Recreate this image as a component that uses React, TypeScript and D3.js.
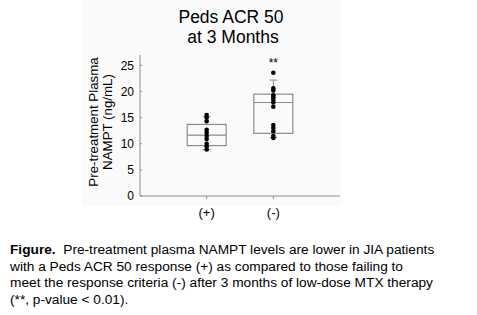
import React from "react";
import * as d3 from "d3";

const categories = ["(+)", "(-)"];
const pointsPos = [15.5, 15.0, 14.3, 12.7, 12.1, 11.5, 10.9, 10.0, 9.5, 8.9];
const pointsNeg = [23.6, 20.6, 20.2, 19.3, 18.9, 18.4, 17.9, 17.1, 13.6, 13.0, 12.4, 11.5, 11.1];
const whiskerLow = [8.9, 11.2];
const q1 = [9.65, 12.0];
const median = [11.65, 17.9];
const q3 = [13.7, 19.5];
const whiskerHigh = [15.2, 22.2];
const yTicks = [0, 5, 10, 15, 20, 25];
const captionLines = [
  "Pre-treatment plasma NAMPT levels are lower in JIA patients",
  "with a Peds ACR 50 response (+) as compared to those failing to",
  "meet the response criteria (-) after 3 months of low-dose MTX therapy",
  "(**, p-value < 0.01).",
];

export default function App() {
  const font = "Liberation Sans, Arial, sans-serif";
  const y = d3.scaleLinear().domain([0, 27]).range([196, 55]);
  const x = d3.scalePoint().domain(categories).range([140, 340]).padding(1);
  const series = [pointsPos, pointsNeg];
  const boxW = 39;
  const capW = 8;
  const gray = "#8c8c8c";
  return (
    <svg
      width={477}
      height={315}
      style={{ position: "absolute", left: 0, top: 0, background: "#fff" }}
      fontFamily={font}
    >
      <rect x={82} y={0} width={259} height={206} fill="#fafafa" />
      <text x={231} y={22.7} fontSize={17.5} textAnchor="middle" fill="#000">Peds ACR 50</text>
      <text x={233} y={42.7} fontSize={17.5} textAnchor="middle" fill="#000">at 3 Months</text>
      <g transform="translate(97.5,122) rotate(-90)">
        <text fontSize={13.3} textAnchor="middle" fill="#000">Pre-treatment Plasma</text>
      </g>
      <g transform="translate(111.5,122) rotate(-90)">
        <text fontSize={13.3} textAnchor="middle" fill="#000">NAMPT (ng/mL)</text>
      </g>
      <line x1={140} x2={140} y1={y(27)} y2={y(0)} stroke={gray} strokeWidth={1} />
      <line x1={140} x2={340} y1={y(0)} y2={y(0)} stroke={gray} strokeWidth={1} />
      {yTicks.map((t) => (
        <g key={t}>
          <line x1={140} x2={142} y1={y(t)} y2={y(t)} stroke={gray} />
          <text x={134} y={y(t) + 4.2} fontSize={12} textAnchor="end" fill="#000">{t}</text>
        </g>
      ))}
      {categories.map((c, i) => {
        const cx = x(c) as number;
        return (
          <g key={c}>
            <line x1={cx} x2={cx} y1={y(0)} y2={y(0) + 3} stroke={gray} />
            <text x={cx} y={217} fontSize={13} textAnchor="middle" fill="#000">{c}</text>
            <line x1={cx} x2={cx} y1={y(whiskerHigh[i])} y2={y(q3[i])} stroke={gray} />
            <line x1={cx} x2={cx} y1={y(whiskerLow[i])} y2={y(q1[i])} stroke={gray} />
            <line x1={cx - capW / 2} x2={cx + capW / 2} y1={y(whiskerHigh[i])} y2={y(whiskerHigh[i])} stroke={gray} />
            <line x1={cx - capW / 2} x2={cx + capW / 2} y1={y(whiskerLow[i])} y2={y(whiskerLow[i])} stroke={gray} />
            <rect x={cx - boxW / 2} y={y(q3[i])} width={boxW} height={y(q1[i]) - y(q3[i])} fill="none" stroke={gray} strokeWidth={1.2} />
            <line x1={cx - boxW / 2} x2={cx + boxW / 2} y1={y(median[i])} y2={y(median[i])} stroke={gray} strokeWidth={1.2} />
            {series[i].map((v, j) => (
              <circle key={j} cx={cx} cy={y(v)} r={2.3} fill="#000" />
            ))}
          </g>
        );
      })}
      <text x={x("(-)") as number} y={67} fontSize={12} textAnchor="middle" fill="#000">**</text>
      {captionLines.map((l, i) => (
        <text key={i} x={10} y={254 + i * 16.7} fontSize={13.7} fill="#000">
          {i === 0 ? (
            <>
              <tspan fontWeight="bold">Figure.</tspan>
              <tspan xmlSpace="preserve">{"  " + l}</tspan>
            </>
          ) : (
            l
          )}
        </text>
      ))}
    </svg>
  );
}
